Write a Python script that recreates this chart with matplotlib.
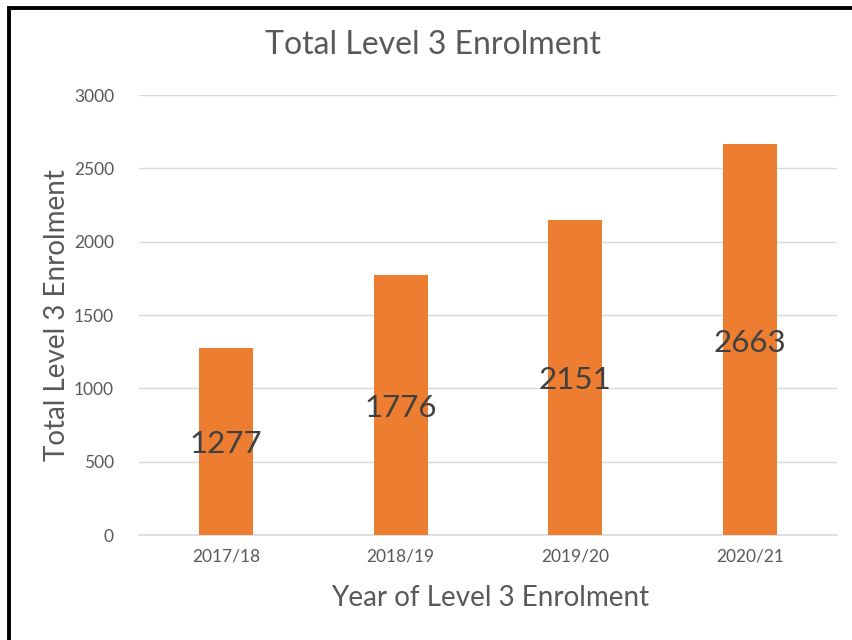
import matplotlib
matplotlib.use("Agg")
import matplotlib.pyplot as plt
from matplotlib.patches import Rectangle

categories = ["2017/18", "2018/19", "2019/20", "2020/21"]
values = [1277, 1776, 2151, 2663]
yticks = [0, 500, 1000, 1500, 2000, 2500, 3000]

plt.rcParams['font.family'] = ['Lato', 'DejaVu Sans']

fig = plt.figure(figsize=(8.52, 6.4), dpi=100)
ax = fig.add_axes([139/852, 1-535/640, (837-139)/852, (535-95)/640])

x = range(len(categories))
bars = ax.bar(x, values, width=0.31, color="#ED7D31", zorder=3)
for xi, v in zip(x, values):
    ax.text(xi, v/2 - 20, str(v), ha="center", va="center", fontsize=22.5, color="#404040", zorder=4)

ax.set_xlim(-0.5, len(categories)-0.5)
ax.set_ylim(0, 3000)
ax.set_yticks(yticks)
ax.set_xticks(list(x))
ax.set_xticklabels(categories)
ax.tick_params(axis="both", length=0, labelsize=12.5, labelcolor="#595959")
ax.tick_params(axis="y", pad=18)
ax.tick_params(axis="x", pad=10)
ax.grid(axis="y", color="#d9d9d9", linewidth=1, zorder=0)
for s in ["top", "right", "left"]:
    ax.spines[s].set_visible(False)
ax.spines["bottom"].set_color("#d9d9d9")
ax.spines["bottom"].set_linewidth(1.2)

fig.text(433/852, 1-45/640, "Total Level 3 Enrolment", ha="center", va="center", fontsize=23, color="#595959")
fig.text(490/852, 1-598/640, "Year of Level 3 Enrolment", ha="center", va="center", fontsize=20, color="#595959")
fig.text(57/852, 1-315/640, "Total Level 3 Enrolment", ha="center", va="center", rotation=90, fontsize=20, color="#595959")

fig.patches.append(Rectangle((9/852, -0.1), 1.2, 1.1 - 7.5/640, transform=fig.transFigure,
                             fill=False, edgecolor="black", linewidth=2.8))

fig.savefig("out.png", dpi=100)
